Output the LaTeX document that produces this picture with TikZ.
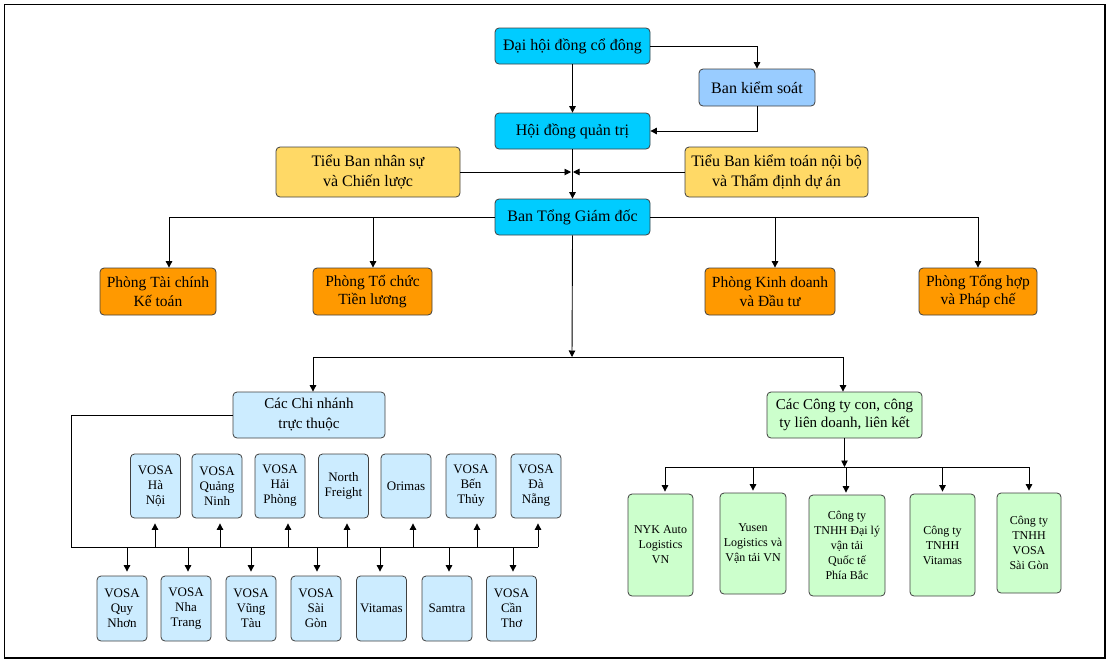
\documentclass[tikz,border=0pt]{standalone}
\usepackage{fontspec}
\setmainfont{Liberation Serif}
\usetikzlibrary{arrows.meta}
\definecolor{cyanbox}{RGB}{0,204,255}
\definecolor{bksbox}{RGB}{153,204,255}
\definecolor{yelbox}{RGB}{255,217,102}
\definecolor{orgbox}{RGB}{255,153,0}
\definecolor{lbbox}{RGB}{204,236,255}
\definecolor{lgbox}{RGB}{204,255,204}
\definecolor{edgec}{RGB}{64,64,64}
\begin{document}
\begin{tikzpicture}[x=1pt,y=-1pt,
  box/.style={draw=edgec,line width=0.8pt,rounded corners=4pt,align=center,inner sep=0pt,text=black},
  sz/.style 2 args={minimum width=#1pt,minimum height=#2pt},
  fbig/.style={font=\fontsize{16}{20}\selectfont},
  fmid/.style={font=\fontsize{15}{18}\selectfont},
  fsm/.style={font=\fontsize{13}{15}\selectfont},
  fxs/.style={font=\fontsize{12}{15}\selectfont},
  topbox/.style={box,fill=cyanbox,fbig},
  bksb/.style={box,fill=bksbox,fbig},
  yelb/.style={box,fill=yelbox,fbig},
  orgb/.style={box,fill=orgbox,font=\fontsize{15.5}{18.5}\selectfont},
  lbb/.style={box,fill=lbbox},
  lgb/.style={box,fill=lgbox},
  arr/.style={-{Triangle[length=6.5pt,width=6.5pt]},line width=0.9pt,draw=black},
  ln/.style={line width=0.9pt,draw=black}]
\useasboundingbox (0,0) rectangle (1108,662);
\draw[line width=1.2pt] (4.5,4.5) rectangle (1105,658);

% top
\node[topbox,sz={155}{36}] (dh) at (572.5,46) {Đại hội đồng cổ đông};
\node[bksb,sz={116}{37}] (bks) at (757,87.5) {Ban kiểm soát};
\node[topbox,sz={155}{36}] (hdqt) at (572.5,131) {Hội đồng quản trị};
\node[yelb,sz={184}{50}] (tbl) at (368,172) {Tiểu Ban nhân sự\\và Chiến lược};
\node[yelb,sz={183}{50}] (tbr) at (776.5,172) {Tiểu Ban kiểm toán nội bộ\\và Thẩm định dự án};
\node[topbox,sz={155}{36}] (btgd) at (572.5,217) {Ban Tổng Giám đốc};

% phong
\node[orgb,sz={116}{47}] (p1) at (158,291.5) {Phòng Tài chính\\Kế toán};
\node[orgb,sz={119}{47}] (p2) at (372.5,291.5) {Phòng Tổ chức\\Tiền lương};
\node[orgb,sz={130}{47}] (p3) at (770,291.5) {Phòng Kinh doanh\\và Đầu tư};
\node[orgb,sz={118}{47}] (p4) at (978,291.5) {Phòng Tổng hợp\\và Pháp chế};

% groups
\node[lbb,sz={152}{46},font=\fontsize{15}{20}\selectfont] (cn) at (309,415) {Các Chi nhánh\\trực thuộc};
\node[lgb,fmid,sz={155}{46}] (ct) at (844.5,415) {Các Công ty con, công\\ty liên doanh, liên kết};

% upper branches
\node[lbb,fsm,sz={50}{64}] (u1) at (155.5,486) {VOSA\\Hà\\Nội};
\node[lbb,fsm,sz={50}{64}] (u2) at (217,486) {VOSA\\Quảng\\Ninh};
\node[lbb,fsm,sz={50}{64}] (u3) at (280,486) {VOSA\\Hải\\Phòng};
\node[lbb,fsm,sz={50}{64}] (u4) at (343.5,486) {North\\Freight};
\node[lbb,fsm,sz={50}{64}] (u5) at (406,486) {Orimas};
\node[lbb,fsm,sz={50}{64}] (u6) at (471,486) {VOSA\\Bến\\Thủy};
\node[lbb,fsm,sz={50}{64}] (u7) at (536,486) {VOSA\\Đà\\Nẵng};

% lower branches
\node[lbb,fsm,sz={50}{65}] (l1) at (122,608.5) {VOSA\\Quy\\Nhơn};
\node[lbb,fsm,sz={50}{65}] (l2) at (186,608.5) {VOSA\\Nha\\Trang};
\node[lbb,fsm,sz={50}{65}] (l3) at (251,608.5) {VOSA\\Vũng\\Tàu};
\node[lbb,fsm,sz={50}{65}] (l4) at (316,608.5) {VOSA\\Sài\\Gòn};
\node[lbb,fsm,sz={50}{65}] (l5) at (381.5,608.5) {Vitamas};
\node[lbb,fsm,sz={50}{65}] (l6) at (447,608.5) {Samtra};
\node[lbb,fsm,sz={50}{65}] (l7) at (511.5,608.5) {VOSA\\Cần\\Thơ};

% companies
\node[lgb,fxs,sz={65}{102}] (r1) at (660.5,545) {NYK Auto\\Logistics\\VN};
\node[lgb,fxs,sz={66}{101}] (r2) at (753,543.5) {Yusen\\Logistics và\\Vận tải VN};
\node[lgb,fxs,sz={76}{101}] (r3) at (847,545.5) {Công ty\\TNHH Đại lý\\vận tải\\Quốc tế\\Phía Bắc};
\node[lgb,fxs,sz={65}{102}] (r4) at (942.5,545) {Công ty\\TNHH\\Vitamas};
\node[lgb,fxs,sz={64}{100}] (r5) at (1029,543) {Công ty\\TNHH\\VOSA\\Sài Gòn};

% coordinates
\coordinate (tm) at (572,172);
\coordinate (j) at (572,357);
\coordinate (bus) at (71,547);
\coordinate (busr) at (538,547);
\coordinate (rbl) at (665,467);
\coordinate (rbr) at (1029,467);

% top connectors
\draw[arr] (dh.south) -- (hdqt.north);
\draw[arr] (dh.east) -| (bks.north);
\draw[arr] (bks.south) |- (hdqt.east);
\draw[arr] (hdqt.south) -- (btgd.north);
\draw[arr] (tbl.east) -- ([xshift=-1pt]tm);
\draw[arr] (tbr.west) -- ([xshift=1pt]tm);

% BTGD to phong
\draw[arr] (btgd.west) -| ([xshift=11pt]p1.north);
\draw[arr] ([xshift=0.5pt]p2.north |- btgd.west) -- ([xshift=0.5pt]p2.north);
\draw[arr] (btgd.east) -| (p4.north);
\draw[arr] ([xshift=5pt]p3.north |- btgd.east) -- ([xshift=5pt]p3.north);

% BTGD to groups
\draw[arr] (btgd.south) -- (j);
\draw[arr] (j) -| ([xshift=4pt]cn.north);
\draw[arr] (j) -| ([xshift=-1.5pt]ct.north);

% branch bus
\draw[ln] (cn.west) -| (bus) -- (busr);
\draw[arr] ([xshift=-0.5pt]u1.south |- bus) -- ([xshift=-0.5pt,yshift=-5pt]u1.south);
\draw[arr] ([xshift=3pt]u2.south |- bus) -- ([xshift=3pt,yshift=-5pt]u2.south);
\draw[arr] ([xshift=8pt]u3.south |- bus) -- ([xshift=8pt,yshift=-5pt]u3.south);
\draw[arr] ([xshift=3.5pt]u4.south |- bus) -- ([xshift=3.5pt,yshift=-5pt]u4.south);
\draw[arr] ([xshift=7pt]u5.south |- bus) -- ([xshift=7pt,yshift=-5pt]u5.south);
\draw[arr] ([xshift=6pt]u6.south |- bus) -- ([xshift=6pt,yshift=-5pt]u6.south);
\draw[arr] (busr) -- ([yshift=-5pt]u7.south -| busr);

\draw[arr] ([xshift=5pt]l1.north |- bus) -- ([xshift=5pt,yshift=4pt]l1.north);
\draw[arr] ([xshift=2pt]l2.north |- bus) -- ([xshift=2pt,yshift=4pt]l2.north);
\draw[arr] (l3.north |- bus) -- ([yshift=4pt]l3.north);
\draw[arr] ([xshift=1pt]l4.north |- bus) -- ([xshift=1pt,yshift=4pt]l4.north);
\draw[arr] ([xshift=-1.5pt]l5.north |- bus) -- ([xshift=-1.5pt,yshift=4pt]l5.north);
\draw[arr] ([xshift=2pt]l6.north |- bus) -- ([xshift=2pt,yshift=4pt]l6.north);
\draw[arr] ([xshift=1.5pt]l7.north |- bus) -- ([xshift=1.5pt,yshift=4pt]l7.north);

% company bus
\draw[arr] (ct.south) -- (ct.south |- rbl);
\draw[ln] (rbl) -- (rbr);
\draw[arr] (rbl) -- ([yshift=2pt]r1.north -| rbl);
\draw[arr] (r2.north |- rbl) -- ([yshift=2pt]r2.north);
\draw[arr] ([xshift=-1pt]r3.north |- rbl) -- ([xshift=-1pt,yshift=2pt]r3.north);
\draw[arr] (r4.north |- rbl) -- ([yshift=2pt]r4.north);
\draw[arr] (rbr) -- ([yshift=2pt]r5.north -| rbr);
\end{tikzpicture}
\end{document}
